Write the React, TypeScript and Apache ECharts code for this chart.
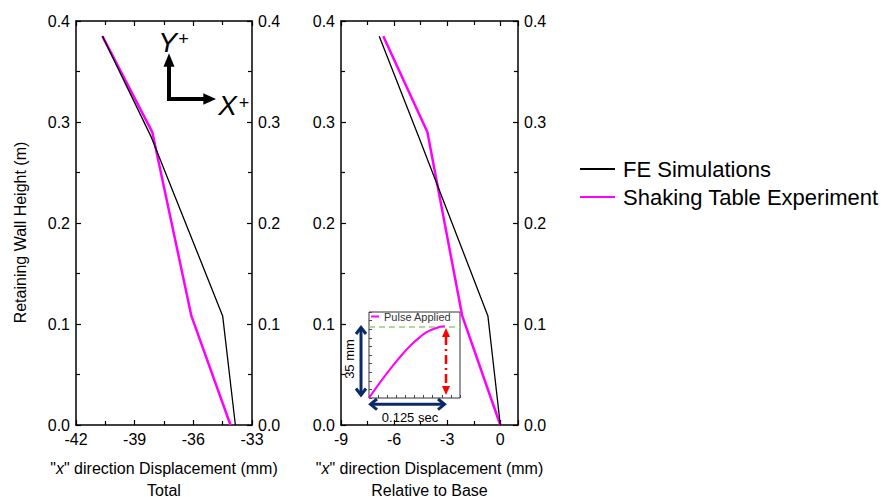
import React, { useEffect, useRef } from "react";
import * as echarts from "echarts";

const FONT = "Liberation Sans, Arial, sans-serif";

// Left panel: total displacement (mm) vs wall height (m)
const feHeights = [0.385, 0.285, 0.108, 0];
const feTotal = [-40.65, -38.15, -34.5, -33.85];
const expHeights = [0.385, 0.29, 0.108, 0];
const expTotal = [-40.65, -38.1, -36.1, -34.1];

// Right panel: displacement relative to base (mm)
const feRelative = [-6.84, -4.6, -0.7, 0];
const expRelative = [-6.61, -4.12, -2.15, 0];

// Inset: pulse applied (time s, displacement mm)
const pulseTime = [0, 0.018, 0.04, 0.054, 0.068, 0.081, 0.095, 0.117, 0.125];
const pulseDisp = [0, 7.5, 16, 21, 25.5, 29, 32.2, 34.8, 35.1];
const pulseTarget = 35;

const seriesNames = ["FE Simulations", "Shaking Table Experiment"];
const insetName = "Pulse Applied";

const zip = (xs: number[], ys: number[]) => xs.map((x, i) => [x, ys[i]]);

const axisLine = { show: true, onZero: false, lineStyle: { color: "#000", width: 1.5 } };
const axisTick = { show: true, inside: true, length: 5, lineStyle: { color: "#000", width: 1.2 } };
const minorTick = { show: true, splitNumber: 2, length: 4, lineStyle: { color: "#000", width: 1.2 } };
const labelStyle = { color: "#000", fontSize: 16, fontFamily: FONT };

function xAx(gridIndex: number, min: number, max: number, position: string, labels: boolean) {
  return {
    type: "value",
    gridIndex,
    min,
    max,
    interval: 3,
    position,
    axisLine,
    axisTick,
    minorTick,
    splitLine: { show: false },
    axisLabel: { show: labels, margin: 6, showMaxLabel: max === -33 ? true : false, ...labelStyle },
  };
}

function yAx(gridIndex: number, position: string) {
  return {
    type: "value",
    gridIndex,
    min: 0,
    max: 0.4,
    interval: 0.1,
    position,
    axisLine,
    axisTick,
    minorTick,
    splitLine: { show: false },
    axisLabel: { show: true, margin: 6, formatter: (v: number) => v.toFixed(1), ...labelStyle },
  };
}

const insetAxisBase = {
  axisLine: { show: false },
  axisTick: { show: true, inside: true, length: 3, lineStyle: { color: "#444", width: 1 } },
  axisLabel: { show: false },
  splitLine: { show: false },
};

export default function App() {
  const ref = useRef<HTMLDivElement>(null);
  useEffect(() => {
    if (!ref.current) return;
    const chart = echarts.init(ref.current, undefined, { renderer: "svg" });
    const navy = "#0B2A66";
    const red = "#FF0000";
    const option: any = {
      animation: false,
      backgroundColor: "#fff",
      grid: [
        { left: 76, top: 21, width: 176, height: 404 },
        { left: 341, top: 21, width: 177, height: 404 },
        {
          left: 369, top: 312, width: 91, height: 86, show: true,
          backgroundColor: "#fff", borderColor: "#333", borderWidth: 1,
        },
      ],
      xAxis: [
        xAx(0, -42, -33, "bottom", true),
        xAx(0, -42, -33, "top", false),
        xAx(1, -9, 1, "bottom", true),
        xAx(1, -9, 1, "top", false),
        { type: "value", gridIndex: 2, min: 0, max: 0.15, interval: 0.015, position: "bottom", ...insetAxisBase },
      ],
      yAxis: [
        yAx(0, "left"),
        yAx(0, "right"),
        yAx(1, "left"),
        yAx(1, "right"),
        { type: "value", gridIndex: 2, min: 0, max: 42, interval: 4.2, position: "left", ...insetAxisBase },
      ],
      legend: [
        {
          data: seriesNames,
          orient: "vertical",
          left: 580,
          top: 158,
          padding: 0,
          itemWidth: 35,
          itemHeight: 2,
          icon: "rect",
          itemGap: 6,
          selectedMode: false,
          textStyle: { fontSize: 22, fontFamily: FONT, color: "#000", lineHeight: 22, padding: [0, 0, 0, 3] },
        },
        {
          data: [insetName],
          orient: "horizontal",
          left: 371,
          top: 311,
          itemWidth: 8,
          itemHeight: 2,
          icon: "rect",
          itemGap: 2,
          selectedMode: false,
          padding: 0,
          textStyle: { fontSize: 11, fontFamily: FONT, color: "#333" },
        },
      ],
      series: [
        {
          type: "line", name: seriesNames[0], xAxisIndex: 0, yAxisIndex: 0,
          data: zip(feTotal, feHeights), symbol: "none",
          lineStyle: { color: "#000", width: 1.3 }, itemStyle: { color: "#000" }, z: 3,
        },
        {
          type: "line", name: seriesNames[1], xAxisIndex: 0, yAxisIndex: 0,
          data: zip(expTotal, expHeights), symbol: "none",
          lineStyle: { color: "#FF00FF", width: 2.5 }, itemStyle: { color: "#FF00FF" }, z: 2,
        },
        {
          type: "line", name: seriesNames[0], xAxisIndex: 2, yAxisIndex: 2,
          data: zip(feRelative, feHeights), symbol: "none",
          lineStyle: { color: "#000", width: 1.3 }, itemStyle: { color: "#000" }, z: 3,
        },
        {
          type: "line", name: seriesNames[1], xAxisIndex: 2, yAxisIndex: 2,
          data: zip(expRelative, expHeights), symbol: "none",
          lineStyle: { color: "#FF00FF", width: 2.5 }, itemStyle: { color: "#FF00FF" }, z: 2,
        },
        {
          type: "line", name: insetName, xAxisIndex: 4, yAxisIndex: 4,
          data: zip(pulseTime, pulseDisp), symbol: "none", smooth: 0.3,
          lineStyle: { color: "#FF00FF", width: 2 }, itemStyle: { color: "#FF00FF" }, z: 6,
          markLine: {
            silent: true, symbol: "none", label: { show: false },
            lineStyle: { color: "#9ACD7A", type: [6, 4], width: 1.5 },
            data: [{ yAxis: pulseTarget }],
          },
        },
      ],
      graphic: [
        // axis titles
        {
          type: "text", x: 20.8, y: 232.5, rotation: Math.PI / 2,
          style: { text: "Retaining Wall Height (m)", fontSize: 16, fontFamily: FONT, fill: "#000", align: "center", verticalAlign: "middle" },
        },
        {
          type: "text", x: 164, y: 468,
          style: {
            text: '"{i|x}" direction Displacement (mm)', fontSize: 16, fontFamily: FONT, fill: "#000",
            align: "center", verticalAlign: "middle",
            rich: { i: { fontStyle: "italic", fontSize: 16, fontFamily: FONT, fill: "#000" } },
          },
        },
        {
          type: "text", x: 164, y: 490,
          style: { text: "Total", fontSize: 16, fontFamily: FONT, fill: "#000", align: "center", verticalAlign: "middle" },
        },
        {
          type: "text", x: 429.5, y: 468,
          style: {
            text: '"{i|x}" direction Displacement (mm)', fontSize: 16, fontFamily: FONT, fill: "#000",
            align: "center", verticalAlign: "middle",
            rich: { i: { fontStyle: "italic", fontSize: 16, fontFamily: FONT, fill: "#000" } },
          },
        },
        {
          type: "text", x: 429.5, y: 490,
          style: { text: "Relative to Base", fontSize: 16, fontFamily: FONT, fill: "#000", align: "center", verticalAlign: "middle" },
        },
        // Y+ / X+ direction arrows
        { type: "line", shape: { x1: 169, y1: 101, x2: 169, y2: 64 }, style: { stroke: "#000", lineWidth: 4 } },
        { type: "polygon", shape: { points: [[163.5, 66.7], [174.5, 66.7], [169, 53.3]] }, style: { fill: "#000" } },
        { type: "line", shape: { x1: 167, y1: 99, x2: 205, y2: 99 }, style: { stroke: "#000", lineWidth: 4 } },
        { type: "polygon", shape: { points: [[203.3, 93.3], [203.3, 104.7], [216, 99]] }, style: { fill: "#000" } },
        { type: "text", x: 167.5, y: 42, style: { text: "Y", fontSize: 28, fontStyle: "italic", fontFamily: FONT, fill: "#000", align: "center", verticalAlign: "middle" } },
        { type: "text", x: 183.5, y: 38.5, style: { text: "+", fontSize: 18, fontFamily: FONT, fill: "#000", align: "center", verticalAlign: "middle" } },
        { type: "text", x: 227.5, y: 105.5, style: { text: "X", fontSize: 28, fontStyle: "italic", fontFamily: FONT, fill: "#000", align: "center", verticalAlign: "middle" } },
        { type: "text", x: 244, y: 102.5, style: { text: "+", fontSize: 18, fontFamily: FONT, fill: "#000", align: "center", verticalAlign: "middle" } },
        // inset annotations: 35 mm vertical double arrow
        { type: "line", shape: { x1: 361, y1: 328, x2: 361, y2: 394 }, style: { stroke: navy, lineWidth: 3 } },
        { type: "polyline", shape: { points: [[356, 334], [361, 327.5], [366, 334]] }, style: { stroke: navy, lineWidth: 3, fill: null } },
        { type: "polyline", shape: { points: [[356, 388.5], [361, 395], [366, 388.5]] }, style: { stroke: navy, lineWidth: 3, fill: null } },
        { type: "text", x: 349.5, y: 359, rotation: Math.PI / 2, style: { text: "35 mm", fontSize: 13, fontFamily: FONT, fill: "#000", align: "center", verticalAlign: "middle" } },
        // 0.125 sec horizontal double arrow
        { type: "line", shape: { x1: 371, y1: 404.3, x2: 444, y2: 404.3 }, style: { stroke: navy, lineWidth: 3 } },
        { type: "polyline", shape: { points: [[377, 399], [370.5, 404.3], [377, 409.6]] }, style: { stroke: navy, lineWidth: 3, fill: null } },
        { type: "polyline", shape: { points: [[438, 399], [444.5, 404.3], [438, 409.6]] }, style: { stroke: navy, lineWidth: 3, fill: null } },
        { type: "text", x: 410, y: 417, style: { text: "0.125 sec", fontSize: 13, fontFamily: FONT, fill: "#000", align: "center", verticalAlign: "middle" } },
        // red dash-dot double arrow
        { type: "line", z: 10, shape: { x1: 446, y1: 336, x2: 446, y2: 387 }, style: { stroke: red, lineWidth: 2.5, lineDash: [9, 4, 2, 4] } },
        { type: "polygon", z: 10, shape: { points: [[442, 337], [450, 337], [446, 328]] }, style: { fill: red } },
        { type: "polygon", z: 10, shape: { points: [[442, 386], [450, 386], [446, 395]] }, style: { fill: red } },
      ],
    };
    chart.setOption(option);
    return () => chart.dispose();
  }, []);
  return (
    <div
      ref={ref}
      style={{ position: "absolute", left: 0, top: 0, width: 893, height: 497, background: "#fff" }}
    />
  );
}
